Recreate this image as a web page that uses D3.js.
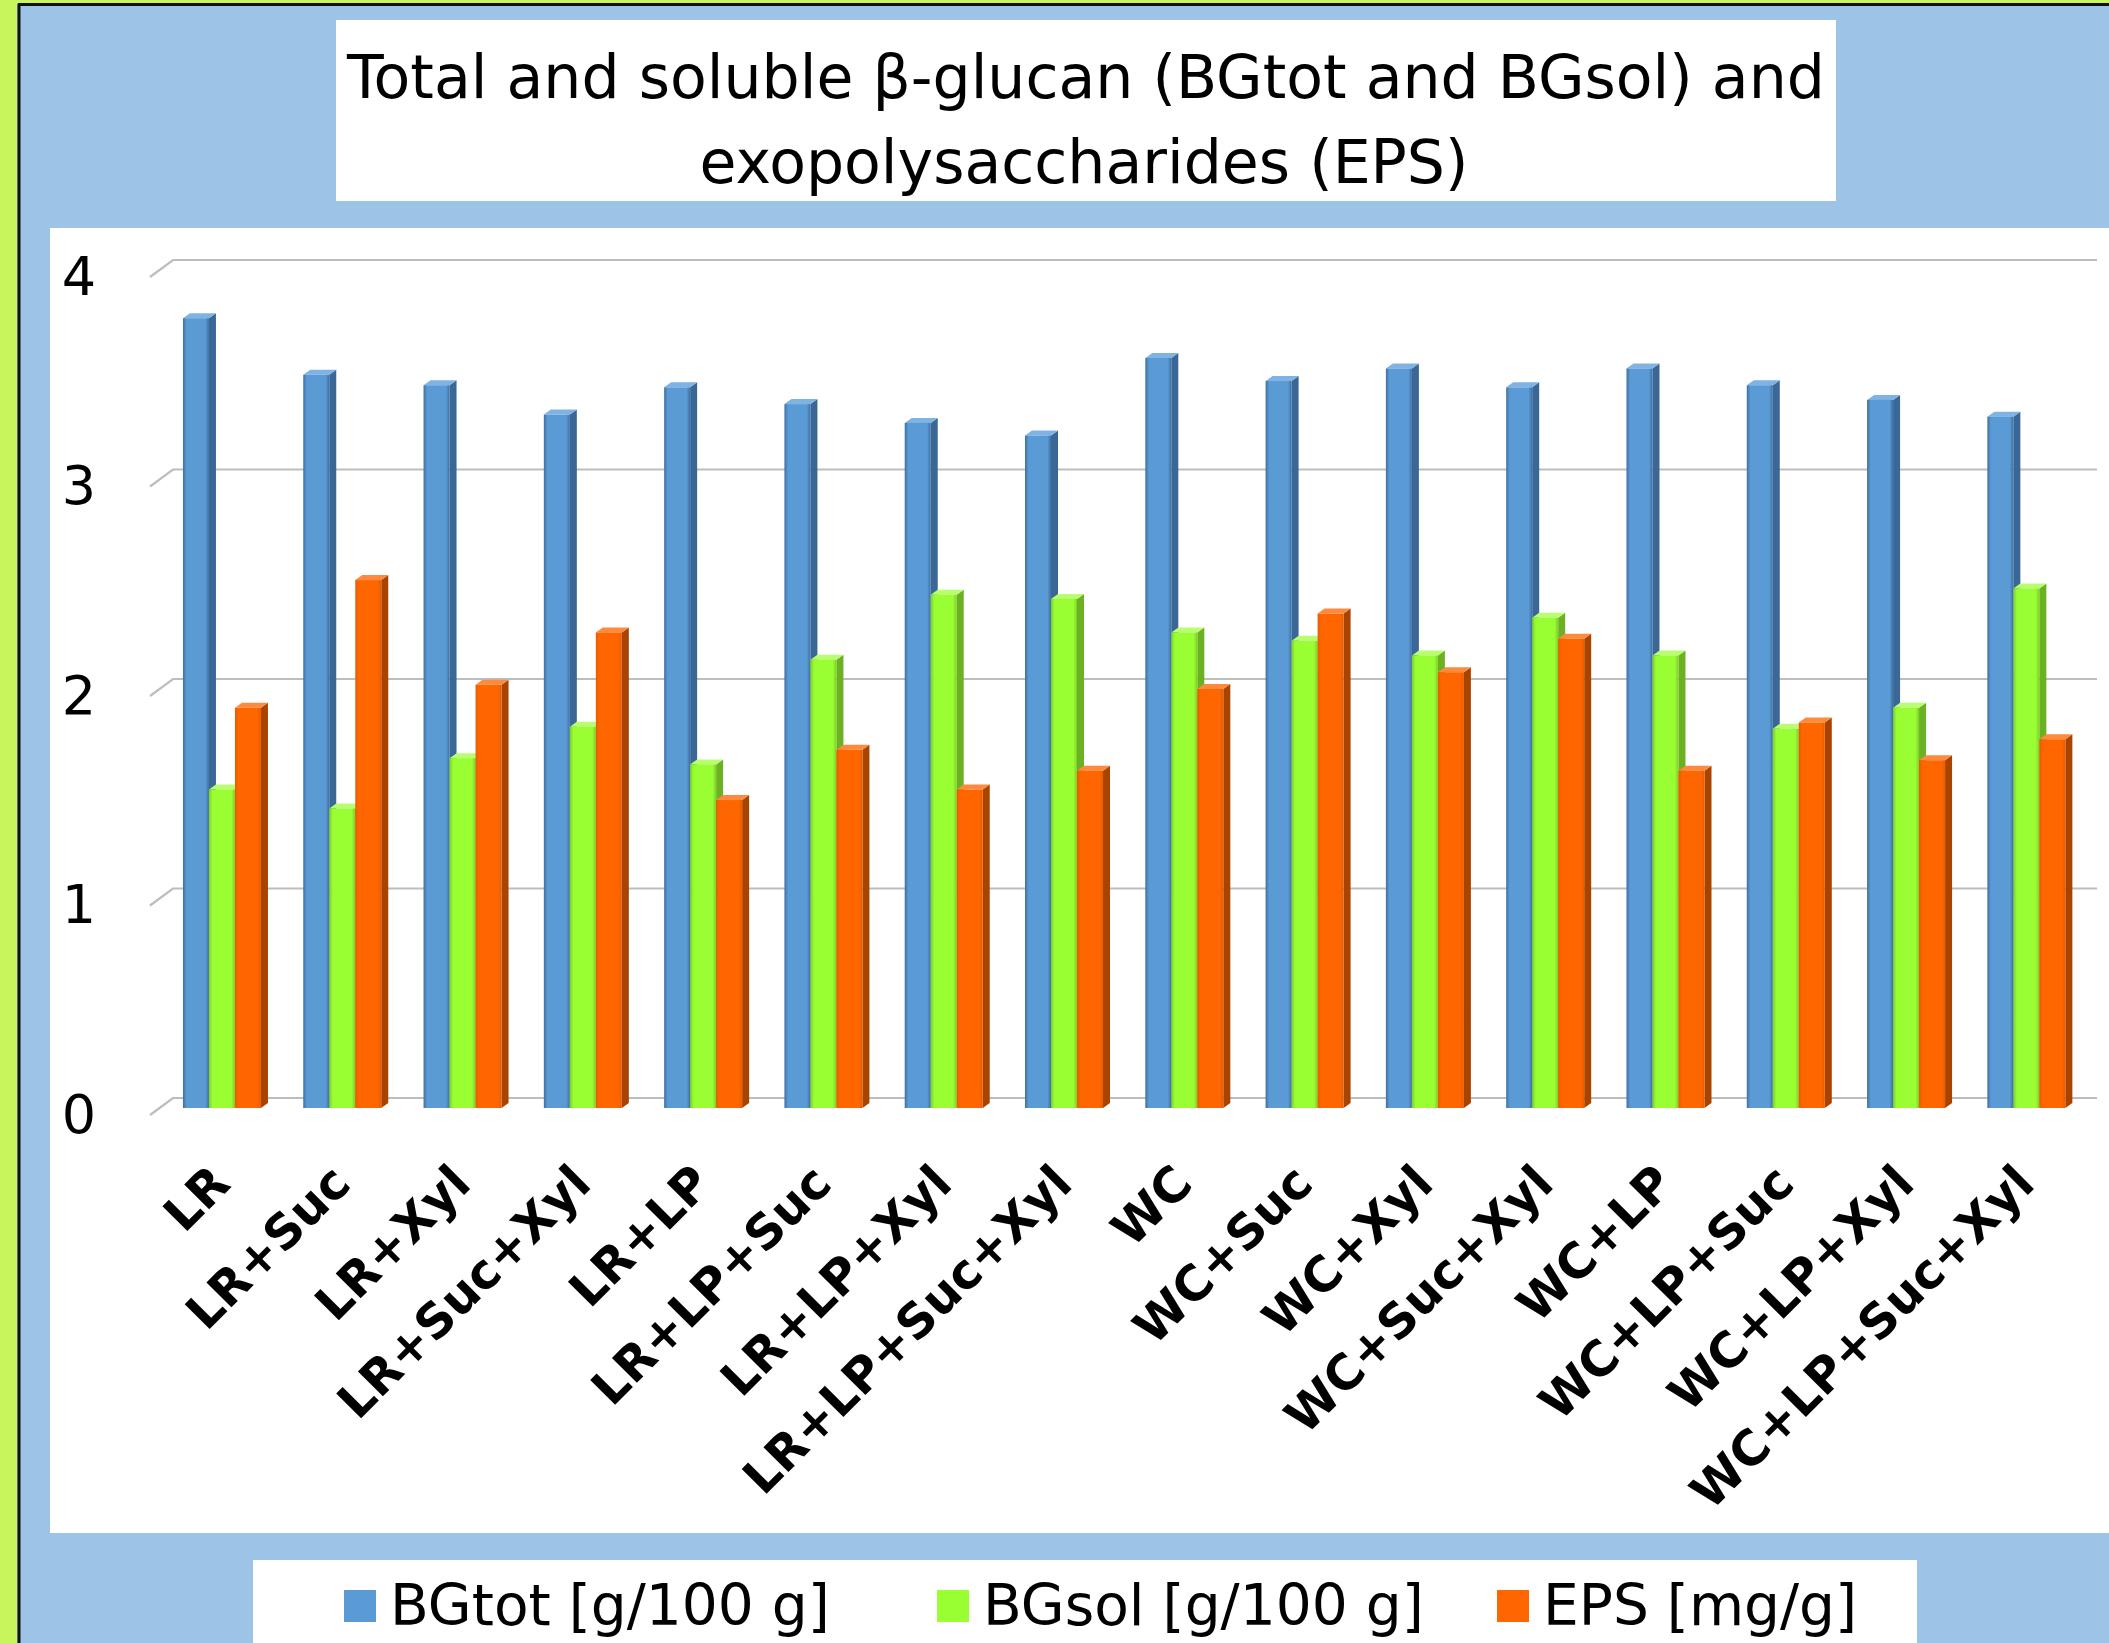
<!DOCTYPE html>
<html><head><meta charset="utf-8">
<script src="https://cdn.jsdelivr.net/npm/d3@7"></script>
<style>body{margin:0;background:#fff}svg{display:block}</style>
</head><body>
<svg id="c" width="2109" height="1643"></svg>
<script>
const categories = ["LR","LR+Suc","LR+Xyl","LR+Suc+Xyl","LR+LP","LR+LP+Suc","LR+LP+Xyl","LR+LP+Suc+Xyl","WC","WC+Suc","WC+Xyl","WC+Suc+Xyl","WC+LP","WC+LP+Suc","WC+LP+Xyl","WC+LP+Suc+Xyl"];
const seriesNames = ["BGtot [g/100 g]","BGsol [g/100 g]","EPS [mg/g]"];
const bgTot = [3.77,3.50,3.45,3.31,3.44,3.36,3.27,3.21,3.58,3.47,3.53,3.44,3.53,3.45,3.38,3.30];
const bgSol = [1.52,1.43,1.67,1.82,1.64,2.14,2.45,2.43,2.27,2.23,2.16,2.34,2.16,1.81,1.91,2.48];
const eps   = [1.91,2.52,2.02,2.27,1.47,1.71,1.52,1.61,2.00,2.36,2.08,2.24,1.61,1.84,1.66,1.76];
const yTicks = [0,1,2,3,4];
const titleLines = ["Total and soluble \u03B2-glucan (BGtot and BGsol) and","exopolysaccharides (EPS)"];

const W = 2109, H = 1643;
const FONT = "'DejaVu Sans', sans-serif";
const svg = d3.select("#c");

const seriesData = [bgTot, bgSol, eps];
const baseCol = ["#5b9bd5", "#99ff33", "#ff6600"];
const edgeCol = ["#3d6fa3", "#7ccf25", "#e85c00"];
const sideCol = ["#3a6796", "#6cb023", "#a84300"];
const topCol  = ["#7fb3e3", "#b8ff70", "#ff8a3d"];
const color = d3.scaleOrdinal().domain(seriesNames).range(baseCol);

// gradients
const defs = svg.append("defs");
baseCol.forEach((c, i) => {
  const g = defs.append("linearGradient").attr("id", "g" + i).attr("x1", 0).attr("x2", 1).attr("y1", 0).attr("y2", 0);
  g.append("stop").attr("offset", "0%").attr("stop-color", edgeCol[i]);
  g.append("stop").attr("offset", "14%").attr("stop-color", c);
  g.append("stop").attr("offset", "86%").attr("stop-color", c);
  g.append("stop").attr("offset", "100%").attr("stop-color", edgeCol[i]);
});

// backgrounds
svg.append("rect").attr("width", W).attr("height", H).attr("fill", "#9dc3e6");
svg.append("rect").attr("x", 0).attr("y", 0).attr("width", 17).attr("height", H).attr("fill", "#c8f55c");
svg.append("rect").attr("x", 0).attr("y", 0).attr("width", W).attr("height", 3).attr("fill", "#c8f55c");
svg.append("line").attr("x1", 19).attr("x2", 19).attr("y1", 4).attr("y2", H).attr("stroke", "#111").attr("stroke-width", 3);
svg.append("line").attr("x1", 18).attr("x2", W).attr("y1", 4.5).attr("y2", 4.5).attr("stroke", "#111").attr("stroke-width", 3);

// title box
svg.append("rect").attr("x", 336).attr("y", 20).attr("width", 1500).attr("height", 181).attr("fill", "#fff");
// plot box
svg.append("rect").attr("x", 50).attr("y", 228).attr("width", W - 50).attr("height", 1533 - 228).attr("fill", "#fff");
// legend box
svg.append("rect").attr("x", 253).attr("y", 1560).attr("width", 1664).attr("height", H - 1560).attr("fill", "#fff");

function fitSize(text, target) {
  const t = svg.append("text").attr("font-family", text.family).attr("font-weight", text.weight || "normal")
    .attr("font-size", 100).text(text.str);
  const w = t.node().getComputedTextLength();
  t.remove();
  return 100 * target / w;
}

// title
const tSize = fitSize({str: titleLines[0], family: FONT}, 1478);
svg.append("text").attr("x", 1086).attr("y", 98).attr("text-anchor", "middle")
  .attr("font-family", FONT).attr("font-size", tSize).attr("fill", "#000").text(titleLines[0]);
svg.append("text").attr("x", 1084).attr("y", 183).attr("text-anchor", "middle")
  .attr("font-family", FONT).attr("font-size", tSize).attr("fill", "#000").text(titleLines[1]);

// scales
const yAxisScale = d3.scaleLinear().domain([0, 4]).range([1115, 277]);
const yBar = d3.scaleLinear().domain([0, 4]).range([1108, 270]);
const x0 = d3.scaleBand().domain(categories).range([166.3, 2091]).paddingInner(0.277).paddingOuter(0.1385);
const x1 = d3.scaleBand().domain(seriesNames).range([0, 78]);

// gridlines (back wall)
svg.append("g").selectAll("path").data(yTicks).join("path")
  .attr("d", v => `M150,${yAxisScale(v)}L173,${yAxisScale(v) - 17}L2097,${yAxisScale(v) - 17}`)
  .attr("fill", "none").attr("stroke", "#bdbdbd").attr("stroke-width", 2.2);

// y axis labels
const yAx = svg.append("g").attr("transform", "translate(79,0)")
  .call(d3.axisLeft(yAxisScale).tickValues(yTicks).tickSize(0).tickPadding(0).tickFormat(d3.format("d")));
yAx.select(".domain").remove();
yAx.selectAll("text").attr("text-anchor", "middle").attr("font-family", FONT).attr("font-size", 54).attr("fill", "#000");

// bars
const d = 7, e = 5;
const barW = x1.bandwidth();
seriesNames.forEach((s, si) => {
  const g = svg.append("g");
  const vals = seriesData[si];
  categories.forEach((c, ci) => {
    const v = vals[ci];
    const x = x0(c) + x1(s);
    const y = yBar(v);
    const y0 = yBar(0);
    g.append("polygon").attr("points", `${x + barW},${y} ${x + barW + d},${y - e} ${x + barW + d},${y0 - e} ${x + barW},${y0}`)
      .attr("fill", sideCol[si]);
    g.append("polygon").attr("points", `${x},${y} ${x + d},${y - e} ${x + barW + d},${y - e} ${x + barW},${y}`)
      .attr("fill", topCol[si]);
    g.append("rect").attr("x", x).attr("y", y).attr("width", barW).attr("height", y0 - y)
      .attr("fill", `url(#g${si})`);
  });
});

// x axis labels
const xSize = fitSize({str: "LR+LP+Suc+Xyl", family: FONT, weight: "bold"}, 440);
const xAx = svg.append("g").attr("transform", "translate(0,1186)")
  .call(d3.axisBottom(x0).tickSize(0).tickPadding(0));
xAx.select(".domain").remove();
xAx.selectAll("text").attr("x", 0).attr("y", 0).attr("dy", 0)
  .attr("transform", "translate(6,0) rotate(-45)").attr("text-anchor", "end")
  .attr("font-family", FONT).attr("font-weight", "bold").attr("font-size", xSize).attr("fill", "#000");

// legend
const legX = [344, 937, 1497];
const legTarget = [440, 440, 300];
const lSize = fitSize({str: seriesNames[0], family: FONT}, legTarget[0]);
const leg = svg.append("g");
seriesNames.forEach((s, i) => {
  leg.append("rect").attr("x", legX[i]).attr("y", 1590).attr("width", 32).attr("height", 32).attr("fill", color(s));
  leg.append("text").attr("x", legX[i] + 46).attr("y", 1625).attr("font-family", FONT)
    .attr("font-size", lSize).attr("fill", "#000").text(s);
});
</script>
</body></html>
